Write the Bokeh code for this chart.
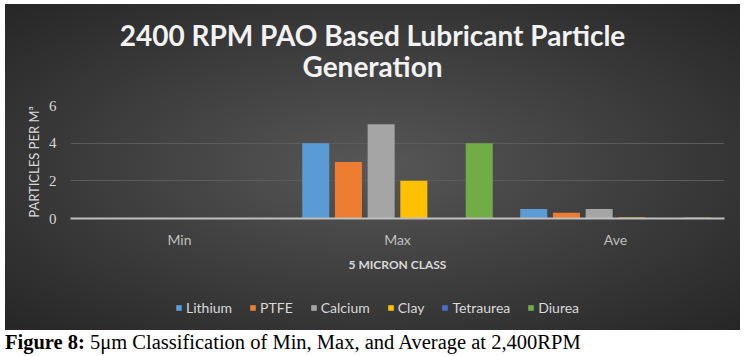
from bokeh.plotting import figure
from bokeh.models import FactorRange, Legend, LegendItem, Div
from bokeh.transform import dodge
from bokeh.layouts import column
from bokeh.embed import file_html
from bokeh.resources import INLINE

title_lines = ["2400 RPM PAO Based Lubricant Particle", "Generation"]
categories = ["Min", "Max", "Ave"]
series_names = ["Lithium", "PTFE", "Calcium", "Clay", "Tetraurea", "Diurea"]
lithium = [0, 4, 0.5]
ptfe = [0, 3, 0.3]
calcium = [0, 5, 0.5]
clay = [0, 2, 0.05]
tetraurea = [0, 0, 0]
diurea = [0, 4, 0.05]
y_ticks = [0, 2, 4, 6]
colors = ["#5b9bd5", "#ed7d31", "#a5a5a5", "#ffc000", "#4472c4", "#70ad47"]

data = {"cat": categories, "Lithium": lithium, "PTFE": ptfe, "Calcium": calcium,
        "Clay": clay, "Tetraurea": tetraurea, "Diurea": diurea}

W = 735

title = Div(text="<div style='width:735px;height:78px;box-sizing:border-box;margin:0;"
                 "text-align:center;font-family:Lato;font-weight:bold;font-size:28px;"
                 "line-height:31px;color:#f2f2f2;padding-top:16px;'>"
                 + "<br>".join(title_lines) + "</div>",
            width=W, height=80, margin=0, styles={"overflow": "hidden"})

p = figure(width=W, height=201, x_range=FactorRange(*categories), y_range=(0, 6),
           title=None, output_backend="svg", toolbar_location=None,
           min_border_left=65, min_border_right=16, min_border_top=21, min_border_bottom=67)
p.background_fill_alpha = 0
p.border_fill_alpha = 0
p.outline_line_color = None

for i, name in enumerate(series_names):
    p.vbar(x=dodge("cat", (i - 2.5) * 0.15, range=p.x_range), top=name, width=0.124,
           source=data, fill_color=colors[i], line_color=None)

p.ygrid.grid_line_color = "#5c5c5c"
p.ygrid.grid_line_width = 1
p.xgrid.grid_line_color = None
p.yaxis.ticker = y_ticks
p.yaxis.axis_line_color = None
p.yaxis.major_tick_line_color = None
p.yaxis.minor_tick_line_color = None
p.yaxis.major_label_text_font = "Liberation Serif"
p.yaxis.major_label_text_font_size = "15px"
p.yaxis.major_label_text_color = "#d9d9d9"
p.yaxis.major_label_standoff = 8
p.yaxis.axis_label = "PARTICLES PER M³"
p.yaxis.axis_label_text_font = "Lato"
p.yaxis.axis_label_text_font_style = "normal"
p.yaxis.axis_label_text_font_size = "13px"
p.yaxis.axis_label_text_color = "#d9d9d9"
p.yaxis.axis_label_standoff = 4

p.xaxis.axis_line_color = "#bfbfbf"
p.xaxis.axis_line_width = 2
p.xaxis.major_tick_line_color = None
p.xaxis.minor_tick_line_color = None
p.xaxis.major_label_text_font = "Lato"
p.xaxis.major_label_text_font_size = "14px"
p.xaxis.major_label_text_color = "#bfbfbf"
p.xaxis.major_label_standoff = 6
p.xaxis.axis_label = "5 MICRON CLASS"
p.xaxis.axis_label_text_font = "Lato"
p.xaxis.axis_label_text_font_style = "bold"
p.xaxis.axis_label_text_font_size = "12px"
p.xaxis.axis_label_text_color = "#d9d9d9"
p.xaxis.axis_label_standoff = 6

# legend strip: same series, renderers hidden so only the legend shows
lp = figure(width=W, height=45, x_range=FactorRange(*categories), y_range=(0, 6),
            title=None, output_backend="svg", toolbar_location=None,
            x_axis_type=None, y_axis_type=None,
            min_border_left=0, min_border_right=0, min_border_top=0, min_border_bottom=0)
lp.background_fill_alpha = 0
lp.border_fill_alpha = 0
lp.outline_line_color = None
lp.xgrid.grid_line_color = None
lp.ygrid.grid_line_color = None
items = []
for i, name in enumerate(series_names):
    r = lp.vbar(x=dodge("cat", (i - 2.5) * 0.15, range=lp.x_range), top=name, width=0.124,
                source=data, fill_color=colors[i], line_color=None, visible=False)
    items.append(LegendItem(label=name, renderers=[r]))
legend = Legend(items=items, orientation="horizontal", location=(105, 14),
                background_fill_alpha=0, border_line_color=None,
                inactive_fill_alpha=0,
                label_text_font="Lato", label_text_font_size="14px", label_text_color="#d9d9d9",
                glyph_width=7, glyph_height=7, label_standoff=4, spacing=17,
                label_height=14, margin=0, padding=0)
lp.add_layout(legend, "center")

panel = column(title, p, lp, spacing=0,
               styles={"margin-left": "5px", "margin-top": "4px",
                       "background": "radial-gradient(ellipse at 50% 50%, #575757 0%, #3e3e3e 50%, #262626 100%)"})

caption = Div(text="<span style='font-family:\"Liberation Serif\";font-size:20.5px;color:#000;line-height:1;'>"
                   "<b>Figure 8:</b> 5μm Classification of Min, Max, and Average at 2,400RPM</span>",
              width=W, height=22, margin=(2, 0, 0, 5))

layout = column(panel, caption, spacing=0)
open("out.html", "w").write(file_html(layout, INLINE))
